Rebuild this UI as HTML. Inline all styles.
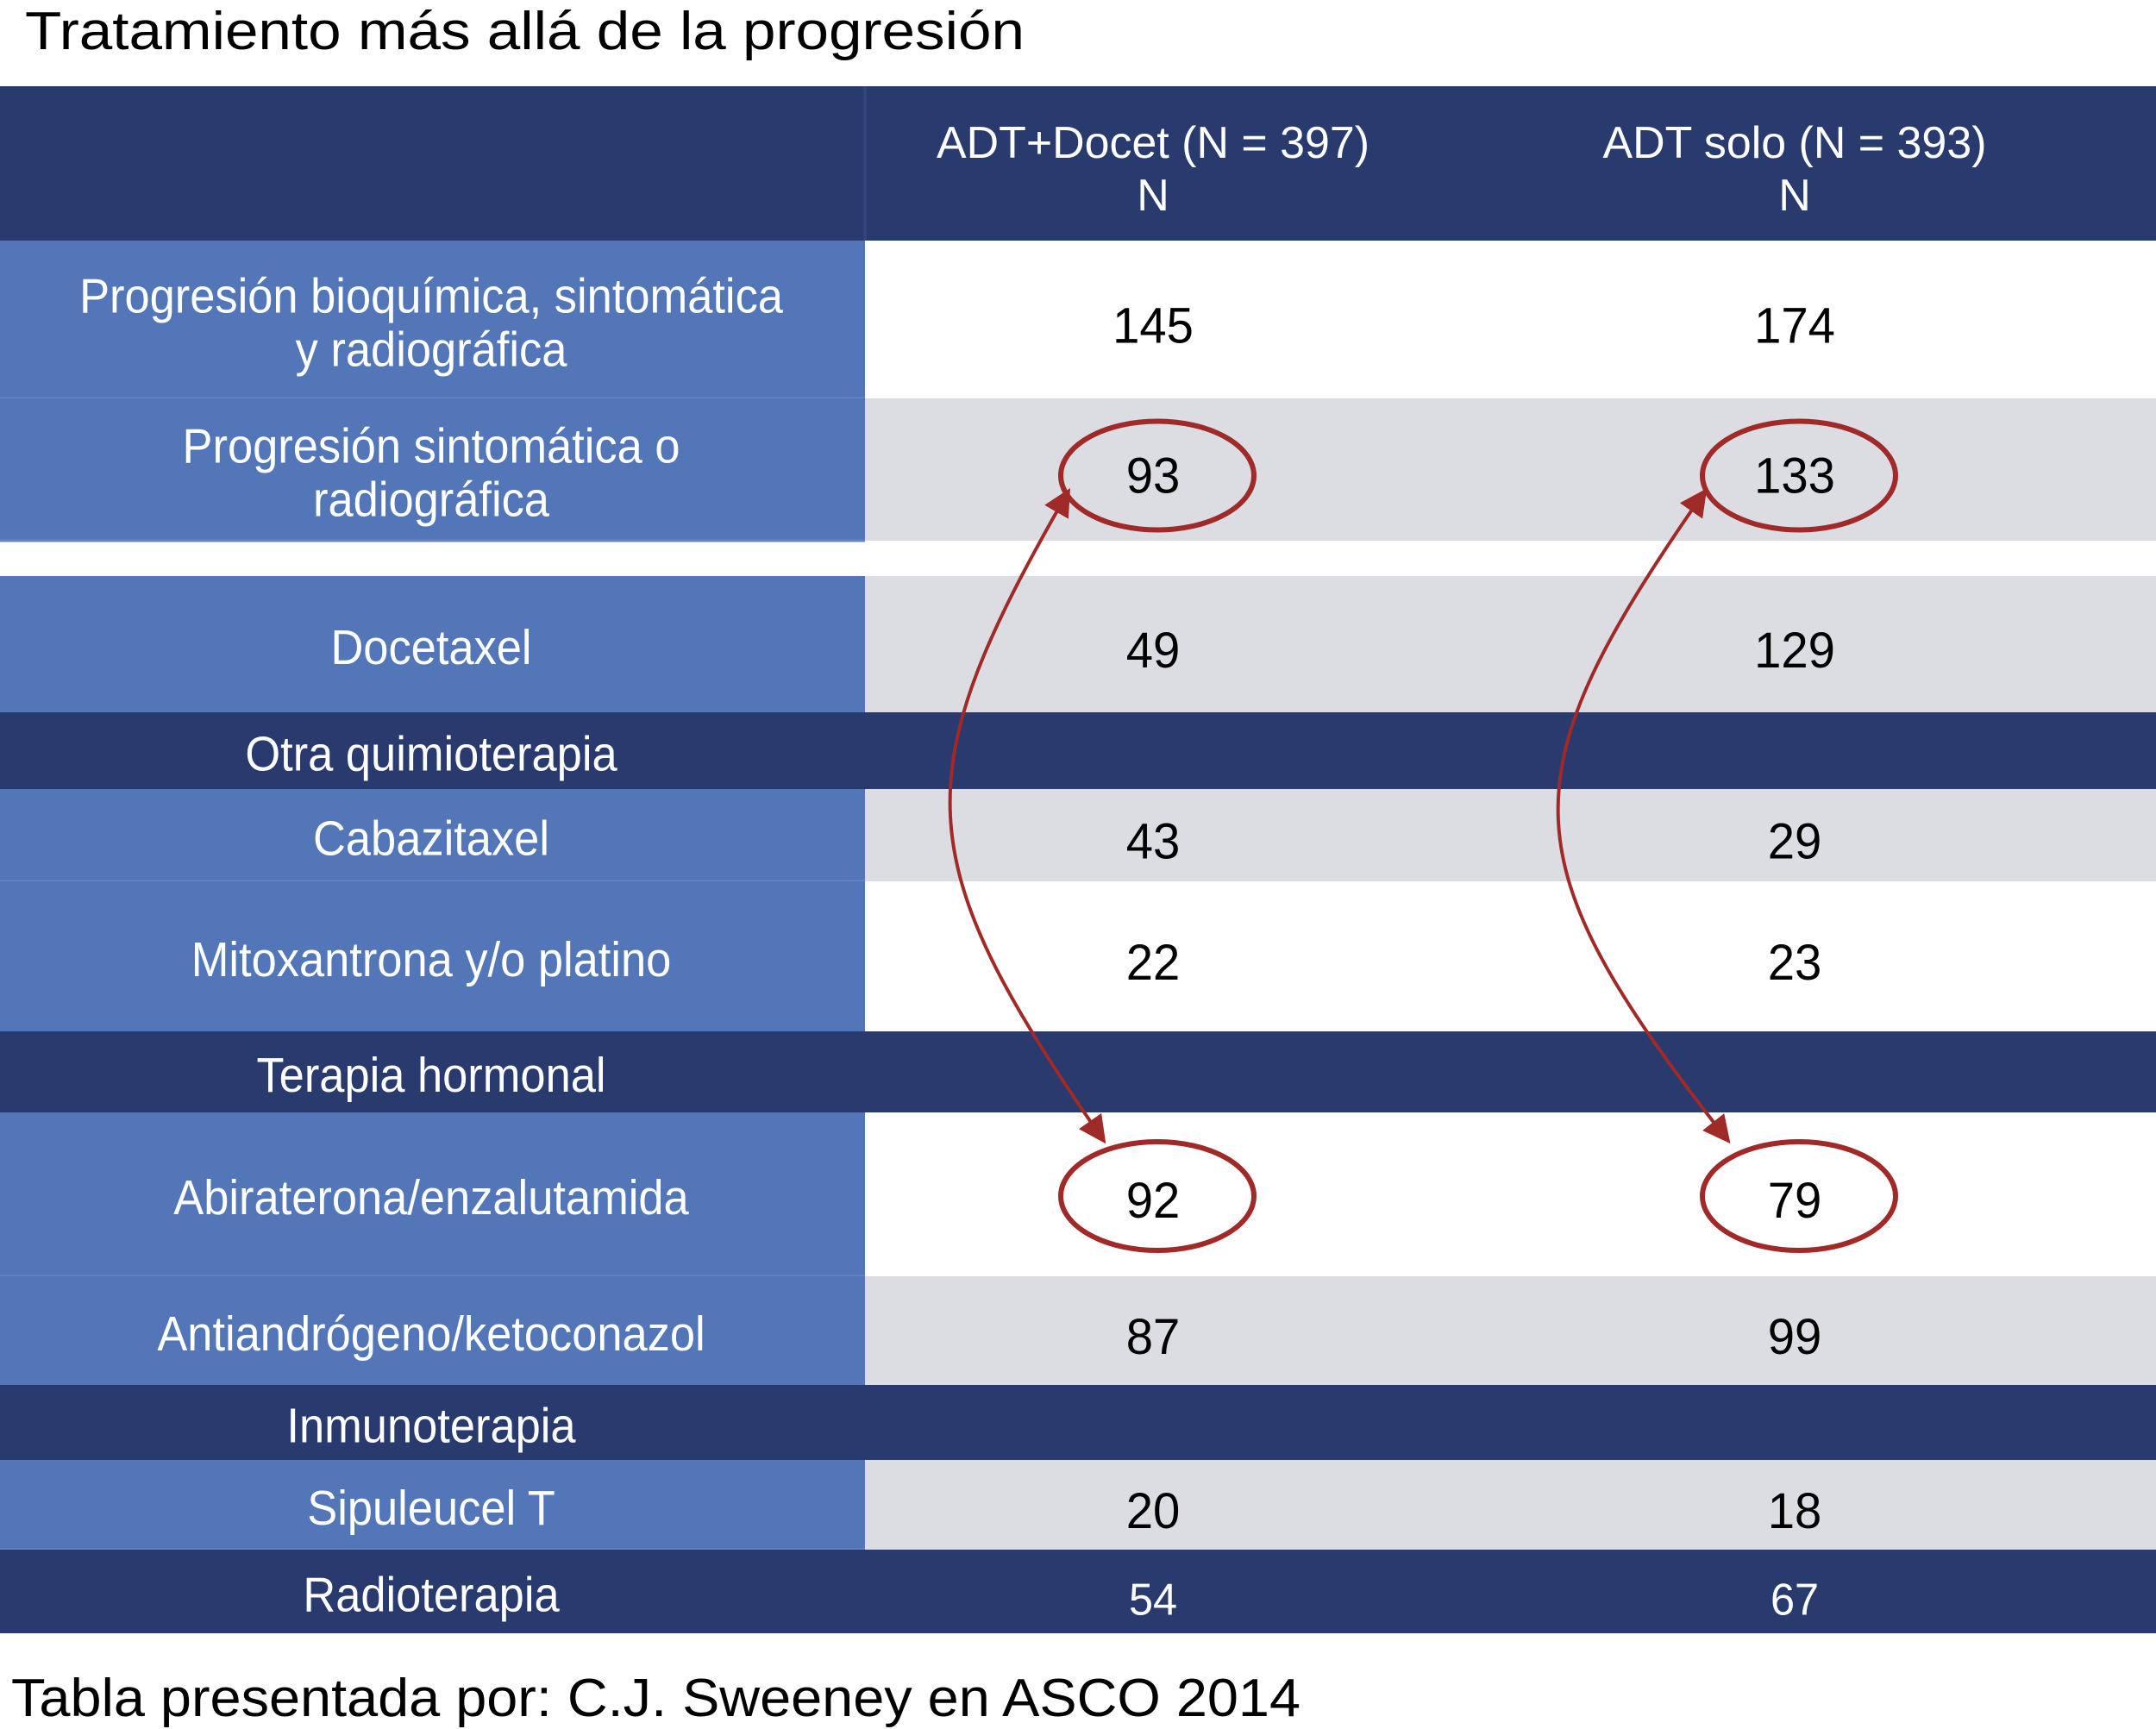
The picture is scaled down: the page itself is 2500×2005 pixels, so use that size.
<!DOCTYPE html>
<html><head><meta charset="utf-8"><style>
html,body{margin:0;padding:0;background:#fff;}
svg{display:block;font-family:"Liberation Sans",sans-serif;}
</style></head><body>
<svg id="chart" width="2500" height="2005" viewBox="0 0 2500 2005" xmlns="http://www.w3.org/2000/svg">
<defs>
<marker id="ah" markerWidth="8" markerHeight="8" refX="7" refY="4" orient="auto-start-reverse" markerUnits="strokeWidth">
<path d="M0,0 L8,4 L0,8 Z" fill="#a02a27"/>
</marker>
</defs>
<text x="29" y="57" font-size="62" textLength="1159" lengthAdjust="spacingAndGlyphs" fill="#000">Tratamiento más allá de la progresión</text>
<rect x="0" y="100" width="2500" height="179" fill="#293a6e"/>
<line x1="1003" y1="100" x2="1003" y2="279" stroke="#33477d" stroke-width="3"/>
<text x="1337" y="183" font-size="52" fill="#fff" text-anchor="middle" textLength="502" lengthAdjust="spacingAndGlyphs">ADT+Docet (N = 397)</text>
<text x="1337" y="244" font-size="52" fill="#fff" text-anchor="middle">N</text>
<text x="2081" y="183" font-size="52" fill="#fff" text-anchor="middle" textLength="445" lengthAdjust="spacingAndGlyphs">ADT solo (N = 393)</text>
<text x="2081" y="244" font-size="52" fill="#fff" text-anchor="middle">N</text>
<g id="rows"></g>
<g id="marks"></g>
<text x="13" y="1990" font-size="62" textLength="1495" lengthAdjust="spacingAndGlyphs" fill="#000">Tabla presentada por: C.J. Sweeney en ASCO 2014</text>
</svg>
<script>
const rowLabels = [["Progresión bioquímica, sintomática","y radiográfica"],["Progresión sintomática o","radiográfica"],["Docetaxel"],["Otra quimioterapia"],["Cabazitaxel"],["Mitoxantrona y/o platino"],["Terapia hormonal"],["Abiraterona/enzalutamida"],["Antiandrógeno/ketoconazol"],["Inmunoterapia"],["Sipuleucel T"],["Radioterapia"]];
const rowTypes = ["white","gray","gray","section","gray","white","section","white","gray","section","gray","dark"];
const docetValues = ["145","93","49","","43","22","","92","87","","20","54"];
const soloValues = ["174","133","129","","29","23","","79","99","","18","67"];
const circledRows = [1,7];
const rowTops = [279,462,668,826,915,1022,1196,1290,1480,1606,1693,1797];
const rowBottoms = [462,627,826,915,1022,1196,1290,1480,1606,1693,1797,1894];
const NS="http://www.w3.org/2000/svg";
const rows=document.getElementById('rows'), marks=document.getElementById('marks');
const colX=[1337,2081], labelX=500, leftW=1003;
const fills={white:"#ffffff",gray:"#dcdde3",section:"#293a6e",dark:"#293a6e"};
function mk(t,a){const e=document.createElementNS(NS,t);for(const k in a)e.setAttribute(k,a[k]);return e;}
rowLabels.forEach((lab,i)=>{
  const t=rowTops[i],b=rowBottoms[i],cy=(t+b)/2,type=rowTypes[i];
  const g=mk('g',{});
  
  
  const bg=mk('rect',{x:0,y:t,width:2500,height:b-t,fill:fills[type]});
  
  
  g.appendChild(bg);
  const lc=mk('rect',{x:0,y:t,width:leftW,height:b-t,fill:(type==='section'||type==='dark')?"#293a6e":"#5376b9"});
  
  
  g.appendChild(lc);
  if(i<rowLabels.length-1 && rowTypes[i+1]!=='section' && type!=='section'){
    g.appendChild(mk('line',{x1:0,y1:b,x2:leftW,y2:b,stroke:"#6684c2","stroke-width":3}));
  }
  const n=lab.length, lh=62;
  lab.forEach((s,j)=>{
    const y=cy+(j-(n-1)/2)*lh+23;
    const tx=mk('text',{transform:`translate(${labelX},${y}) scale(0.92,1)`,x:0,y:0,'font-size':57,fill:'#fff','text-anchor':'middle'});
    
    
    tx.textContent=s;g.appendChild(tx);
  });
  [docetValues[i],soloValues[i]].forEach((v,c)=>{
    if(v==="")return;
    const fs=type==='dark'?52:58;
    const tx=mk('text',{transform:`translate(${colX[c]},${cy+27}) scale(0.97,1)`,x:0,y:0,'font-size':fs,fill:type==='dark'?'#fff':'#000','text-anchor':'middle'});
    
    
    tx.textContent=v;g.appendChild(tx);
  });
  rows.appendChild(g);
});
circledRows.forEach(i=>{
  const cy=(rowTops[i]+rowBottoms[i])/2 + (i===1?5:0);
  colX.forEach(cx=>{
    const e=mk('ellipse',{cx:cx+5,cy:cy+2,rx:112,ry:63,fill:'none',stroke:'#a02a27','stroke-width':6});
    
    
    marks.appendChild(e);
  });
});
const topY=(rowTops[circledRows[0]]+rowBottoms[circledRows[0]])/2+25;
const botY=(rowTops[circledRows[1]]+rowBottoms[circledRows[1]])/2-62;
[[colX[0]-98,colX[0]-57,-190,-230],[colX[1]-104,colX[1]-77,-230,-260]].forEach(a=>{
  const [x0,x1,d0,d1]=a;
  const p=mk('path',{d:`M${x0},${topY} C${x0+d0},${topY+330} ${x1+d1},${botY-330} ${x1},${botY}`,fill:'none',stroke:'#a02a27','stroke-width':4,'marker-start':'url(#ah)','marker-end':'url(#ah)'});
  
  
  marks.appendChild(p);
});
</script>
</body></html>
